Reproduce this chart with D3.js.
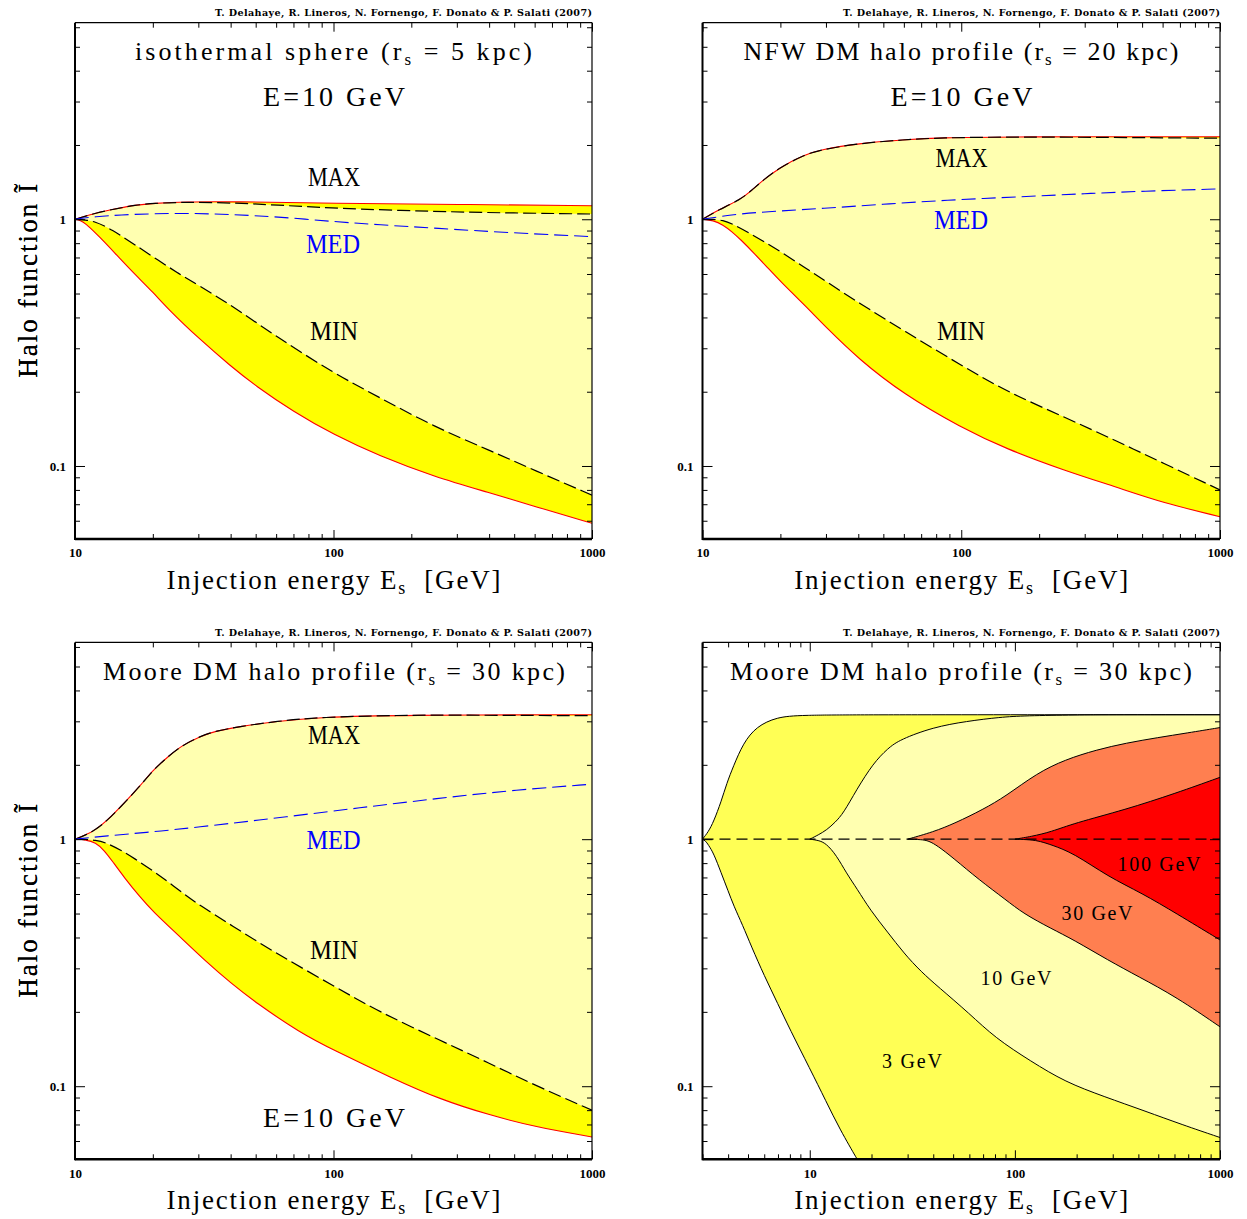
<!DOCTYPE html>
<html><head><meta charset="utf-8">
<script src="https://cdn.jsdelivr.net/npm/d3@7"></script>
<style>body{margin:0;background:#fff}svg{display:block}</style>
</head><body>
<svg id="c" width="1247" height="1219"></svg>
<script>
// ---------------- DATA ----------------
const xTickMajor = [10, 100, 1000];
const xTickLabels = ["10", "100", "1000"];
const yTickMajor = [0.1, 1];
const yTickLabels = ["0.1", "1"];
const yDomain = [0.0506, 6.26];
const xDomainA = [10, 1000];
const xDomainB = [3, 1000];

// isothermal sphere, E = 10 GeV
const isoRedMax  = [[10,1],[12,1.06],[14.7,1.108],[17,1.14],[20,1.16],[27,1.178],[40,1.18],[100,1.16],[300,1.148],[1000,1.135]];
const isoDashMax = [[10,1],[12,1.06],[14.7,1.108],[17,1.14],[20,1.16],[27,1.175],[40,1.165],[60,1.143],[100,1.108],[246,1.074],[500,1.06],[1000,1.05]];
const isoMed     = [[10,1],[12,1.025],[15,1.042],[20,1.053],[28,1.058],[40,1.045],[60,1.025],[100,0.978],[150,0.95],[246,0.92],[500,0.88],[1000,0.85]];
const isoDashMin = [[10,1],[11,0.995],[12,0.975],[13,0.94],[14,0.9],[15,0.86],[17,0.79],[20.9,0.684],[25,0.605],[30,0.54],[40,0.45],[60,0.335],[100,0.238],[150,0.19],[246,0.144],[400,0.116],[600,0.096],[1000,0.0762]];
const isoRedMin  = [[10,1],[10.5,0.99],[11,0.96],[12,0.88],[13,0.81],[14.7,0.705],[17,0.6],[20,0.507],[23.3,0.425],[30,0.33],[40,0.254],[50,0.211],[70,0.166],[100,0.134],[150,0.11],[246,0.0904],[400,0.078],[600,0.0686],[1000,0.0586]];

// NFW, E = 10 GeV
const nfwRedMax  = [[10,1],[11.5,1.09],[14,1.2],[15.5,1.31],[17,1.43],[20,1.63],[25,1.83],[28.5,1.91],[40,2.03],[60,2.1],[83,2.14],[150,2.16],[1000,2.16]];
const nfwDashMax = [[10,1],[11.5,1.09],[14,1.2],[15.5,1.31],[17,1.43],[20,1.63],[25,1.83],[28.5,1.91],[40,2.03],[60,2.1],[83,2.14],[150,2.155],[300,2.15],[1000,2.13]];
const nfwMed     = [[10,1],[14,1.055],[20,1.08],[28.5,1.105],[50,1.15],[86,1.195],[176,1.235],[300,1.27],[500,1.3],[1000,1.327]];
const nfwDashMin = [[10,1],[11,1],[12,0.99],[13,0.96],[15,0.885],[17,0.82],[20,0.74],[25,0.635],[30,0.56],[40,0.46],[60,0.353],[100,0.256],[150,0.2],[250,0.158],[400,0.126],[600,0.103],[1000,0.08]];
const nfwRedMin  = [[10,1],[11,0.99],[12,0.95],[13,0.89],[14,0.83],[16,0.72],[18,0.63],[20,0.56],[25,0.445],[30,0.365],[40,0.272],[60,0.195],[100,0.143],[150,0.117],[250,0.096],[400,0.082],[600,0.071],[1000,0.0623]];

// Moore, E = 10 GeV
const mooreRedMax  = [[10,1],[11,1.04],[12,1.09],[13.4,1.197],[15,1.35],[17.8,1.634],[20,1.9],[22.9,2.16],[26,2.4],[30.5,2.61],[35,2.74],[43.5,2.86],[60,3.0],[88.7,3.12],[181,3.18],[1000,3.19]];
const mooreDashMax = [[10,1],[11,1.04],[12,1.09],[13.4,1.197],[15,1.35],[17.8,1.634],[20,1.9],[22.9,2.16],[26,2.4],[30.5,2.61],[35,2.74],[43.5,2.86],[60,3.0],[88.7,3.12],[181,3.175],[300,3.18],[1000,3.16]];
const mooreMed     = [[10,1],[13,1.03],[20,1.07],[30,1.12],[50,1.19],[100,1.3],[150,1.37],[280,1.48],[500,1.58],[1000,1.67]];
const mooreDashMin = [[10,1],[11,1],[12,0.99],[13,0.975],[15,0.905],[17,0.835],[20,0.745],[23,0.67],[27,0.59],[30,0.545],[40,0.45],[60,0.345],[100,0.255],[150,0.2],[258,0.1536],[400,0.124],[600,0.101],[1000,0.08]];
const mooreRedMin  = [[10,1],[11,0.995],[12,0.97],[13,0.9],[14,0.81],[15.5,0.7],[17.8,0.585],[20,0.51],[25,0.41],[32.7,0.314],[40,0.262],[50,0.218],[74,0.165],[100,0.14],[168,0.108],[258,0.0885],[400,0.0765],[600,0.0685],[1000,0.0623]];

// Moore, bands for several detected energies
const bandLabels = ["3 GeV", "10 GeV", "30 GeV", "100 GeV"];
const e3Upper   = [[3,1],[3.2,1.07],[3.4,1.178],[3.7,1.42],[3.94,1.686],[4.24,1.97],[4.74,2.45],[5.5,2.86],[6.9,3.12],[9,3.18],[20,3.19],[1000,3.19]];
const e3Lower   = [[3,1],[3.1,0.985],[3.2,0.95],[3.4,0.877],[3.7,0.73],[4,0.617],[4.27,0.535],[4.7,0.45],[5.2,0.367],[6,0.28],[7,0.215],[8,0.17],[10,0.118],[12,0.087],[14,0.067],[17.3,0.0495]];
const e10Upper  = [[10,1],[11,1.04],[12.1,1.09],[13.3,1.17],[14.6,1.274],[16.9,1.585],[20.4,2.03],[24,2.33],[27.5,2.53],[40,2.84],[58,3.0],[85,3.12],[112,3.16],[200,3.185],[300,3.19],[1000,3.19]];
const e10Lower  = [[10,1],[11,0.99],[12,0.963],[13.5,0.86],[15.1,0.728],[17,0.63],[19.7,0.517],[24,0.42],[28.8,0.345],[35,0.29],[42.2,0.253],[60,0.197],[80,0.157],[120,0.126],[176,0.104],[270,0.091],[437,0.079],[650,0.07],[1000,0.062]];
const e30Upper  = [[30,1],[40,1.07],[51,1.16],[70,1.32],[90,1.49],[128,1.85],[176,2.1],[250,2.3],[348,2.45],[500,2.58],[690,2.69],[1000,2.83]];
const e30Lower  = [[30,1],[35,0.997],[38,0.985],[42,0.94],[50,0.84],[67,0.684],[90,0.57],[110,0.5],[150,0.435],[194,0.391],[284,0.324],[400,0.278],[611,0.23],[1000,0.174]];
const e100Upper = [[100,1],[120,1.025],[150,1.07],[194,1.16],[344,1.315],[611,1.536],[1000,1.78]];
const e100Lower = [[100,1],[120,0.995],[133,0.98],[150,0.95],[194,0.877],[284,0.706],[417,0.604],[611,0.501],[1000,0.391]];
const unityLine = [[3,1],[1000,1]];

const credit = "T. Delahaye, R. Lineros, N. Fornengo, F. Donato & P. Salati (2007)";

// ---------------- DRAWING ----------------
const svg = d3.select('#c');
const SERIF = '"Liberation Serif", "DejaVu Serif", serif';
const C = {bright:'#ffff00', light:'#ffffb0', y3:'#ffff55', coral:'#ff7f50', red:'#ff0000'};

const frames = [
  {x0:75,   x1:592,  y0:22.7,  y1:539},
  {x0:702.5,x1:1220, y0:22.7,  y1:539},
  {x0:75,   x1:592,  y0:642.4, y1:1159.3},
  {x0:702.5,x1:1220, y0:642.4, y1:1159.3}
];

function makePanel(f, xDomain, id) {
  const g = svg.append('g');
  const x = d3.scaleLog().domain(xDomain).range([f.x0, f.x1]);
  const y = d3.scaleLog().domain(yDomain).range([f.y1, f.y0]);
  g.append('clipPath').attr('id','clip'+id).append('rect')
    .attr('x',f.x0).attr('y',f.y0).attr('width',f.x1-f.x0).attr('height',f.y1-f.y0);
  const plot = g.append('g').attr('clip-path',`url(#clip${id})`);
  const line = d3.line().x(d=>x(d[0])).y(d=>y(d[1])).curve(d3.curveBasis);
  const band = (up, lo) => line(up) + 'L' + line(lo.slice().reverse()).slice(1) + 'Z';
  return {g, plot, x, y, f, line, band};
}

function minorTicks(domain) {
  const out = [];
  for (let k = -3; k <= 4; k++) for (let m = 2; m <= 9; m++) {
    const v = m * Math.pow(10, k);
    if (v >= domain[0]*0.9999 && v <= domain[1]*1.0001) out.push(+v.toPrecision(3));
  }
  return out;
}

function axes(P) {
  const {g, x, y, f} = P;
  const xMin = minorTicks(x.domain()), yMin = minorTicks(y.domain());
  const clean = s => { s.select('.domain').remove(); s.selectAll('line').attr('stroke','#000').attr('stroke-width',1); };
  g.append('g').attr('transform',`translate(0,${f.y1})`).call(d3.axisBottom(x).tickValues(xMin).tickSize(-5).tickFormat('')).call(clean);
  g.append('g').attr('transform',`translate(0,${f.y0})`).call(d3.axisTop(x).tickValues(xMin).tickSize(-5).tickFormat('')).call(clean);
  g.append('g').attr('transform',`translate(${f.x0},0)`).call(d3.axisLeft(y).tickValues(yMin).tickSize(-5).tickFormat('')).call(clean);
  g.append('g').attr('transform',`translate(${f.x1},0)`).call(d3.axisRight(y).tickValues(yMin).tickSize(-5).tickFormat('')).call(clean);
  const xb = g.append('g').attr('transform',`translate(0,${f.y1})`)
    .call(d3.axisBottom(x).tickValues(xTickMajor).tickSize(-9).tickPadding(9).tickFormat((d,i)=>xTickLabels[i])).call(clean);
  g.append('g').attr('transform',`translate(0,${f.y0})`).call(d3.axisTop(x).tickValues(xTickMajor).tickSize(-9).tickFormat('')).call(clean);
  const yl = g.append('g').attr('transform',`translate(${f.x0},0)`)
    .call(d3.axisLeft(y).tickValues(yTickMajor).tickSize(-10).tickPadding(9).tickFormat((d,i)=>yTickLabels[i])).call(clean);
  g.append('g').attr('transform',`translate(${f.x1},0)`).call(d3.axisRight(y).tickValues(yTickMajor).tickSize(-10).tickFormat('')).call(clean);
  [xb, yl].forEach(s => s.selectAll('text').attr('font-family',SERIF).attr('font-weight','bold').attr('font-size',13).attr('fill','#000'));
  g.append('line').attr('x1',f.x0).attr('x2',f.x1).attr('y1',f.y1).attr('y2',f.y1).attr('stroke','#000').attr('stroke-width',2.4);
  g.append('line').attr('x1',f.x0).attr('x2',f.x0).attr('y1',f.y0).attr('y2',f.y1+1).attr('stroke','#000').attr('stroke-width',2);
  g.append('line').attr('x1',f.x0).attr('x2',f.x1).attr('y1',f.y0).attr('y2',f.y0).attr('stroke','#000').attr('stroke-width',1.2);
  g.append('line').attr('x1',f.x1).attr('x2',f.x1).attr('y1',f.y0).attr('y2',f.y1).attr('stroke','#000').attr('stroke-width',1.2);
}

function label(g, x, y, parts, size, len, color, opts) {
  opts = opts || {};
  const t = g.append('text').attr('x',x).attr('y',y).attr('text-anchor',opts.anchor||'middle')
    .attr('font-family',opts.family||SERIF).attr('font-size',size).attr('fill',color||'#000')
    .attr('font-weight',opts.weight||'normal').style('white-space','pre');
  if (opts.transform) t.attr('transform',opts.transform).attr('x',0).attr('y',0);
  parts.forEach(p => {
    if (typeof p === 'string') t.append('tspan').text(p);
    else { const s = t.append('tspan').attr('dy',p.dy).text(p.t); if (p.size) s.attr('font-size',p.size); }
  });
  if (len) t.attr('textLength',len).attr('lengthAdjust',opts.adjust||'spacing');
  return t;
}
const SQ = {adjust:'spacingAndGlyphs'};

function commonText(P) {
  const f = P.f, cx = (f.x0+f.x1)/2;
  label(P.g, f.x1, f.y0-6.5, [credit], 9.6, 377, '#000', {anchor:'end', family:'"DejaVu Serif", serif', weight:'bold'});
  label(P.g, cx, f.y1+50, ['Injection energy E', {t:'s',dy:5,size:18}, {t:'  [GeV]',dy:-5}], 27, 334);
  label(P.g, 0, 0, ['Halo function Ĩ'], 27, 194, '#000', {transform:`translate(37,${(f.y0+f.y1)/2}) rotate(-90)`});
}

function envelopePanel(P, redMax, dashMax, med, dashMin, redMin) {
  const {plot, line, band} = P;
  plot.append('path').attr('d', band(redMax, redMin)).attr('fill', C.bright);
  plot.append('path').attr('d', band(dashMax, dashMin)).attr('fill', C.light);
  [redMax, redMin].forEach(d => plot.append('path').attr('d', line(d)).attr('fill','none').attr('stroke','#ff0000').attr('stroke-width',1.1));
  [dashMax, dashMin].forEach(d => plot.append('path').attr('d', line(d)).attr('fill','none').attr('stroke','#000').attr('stroke-width',1.2).attr('stroke-dasharray','13,5'));
  plot.append('path').attr('d', line(med)).attr('fill','none').attr('stroke','#0000ff').attr('stroke-width',1.1).attr('stroke-dasharray','14,6');
}

// Panel 1: isothermal
const P1 = makePanel(frames[0], xDomainA, 1);
envelopePanel(P1, isoRedMax, isoDashMax, isoMed, isoDashMin, isoRedMin);
axes(P1); commonText(P1);
label(P1.g, 333.5, 60, ['isothermal sphere (r', {t:'s',dy:5,size:17}, {t:' = 5 kpc)',dy:-5}], 26, 397);
label(P1.g, 334, 106, ['E=10 GeV'], 28, 142);
label(P1.g, 334, 186, ['MAX'], 27, 52, '#000', SQ);
label(P1.g, 333, 253, ['MED'], 27, 54, '#0000ff', SQ);
label(P1.g, 334, 340, ['MIN'], 27, 48, '#000', SQ);

// Panel 2: NFW
const P2 = makePanel(frames[1], xDomainA, 2);
envelopePanel(P2, nfwRedMax, nfwDashMax, nfwMed, nfwDashMin, nfwRedMin);
axes(P2); commonText(P2);
label(P2.g, 961, 60, ['NFW DM halo profile (r', {t:'s',dy:5,size:17}, {t:' = 20 kpc)',dy:-5}], 26, 435);
label(P2.g, 961.5, 106, ['E=10 GeV'], 28, 142);
label(P2.g, 961.5, 167, ['MAX'], 27, 52, '#000', SQ);
label(P2.g, 961, 229, ['MED'], 27, 54, '#0000ff', SQ);
label(P2.g, 961, 340, ['MIN'], 27, 48, '#000', SQ);

// Panel 3: Moore
const P3 = makePanel(frames[2], xDomainA, 3);
envelopePanel(P3, mooreRedMax, mooreDashMax, mooreMed, mooreDashMin, mooreRedMin);
axes(P3); commonText(P3);
label(P3.g, 334, 680, ['Moore DM halo profile (r', {t:'s',dy:5,size:17}, {t:' = 30 kpc)',dy:-5}], 26, 462);
label(P3.g, 334, 744, ['MAX'], 27, 52, '#000', SQ);
label(P3.g, 333.5, 849, ['MED'], 27, 54, '#0000ff', SQ);
label(P3.g, 334, 959, ['MIN'], 27, 48, '#000', SQ);
label(P3.g, 334, 1127, ['E=10 GeV'], 28, 142);

// Panel 4: Moore, several energies
const P4 = makePanel(frames[3], xDomainB, 4);
{
  const {plot, line, band, y, x} = P4;
  const bottom = y.domain()[0];
  plot.append('path').attr('d', line(e3Upper) + 'L' + x(1000) + ',' + y(bottom) + 'L' + line(e3Lower.slice().reverse()).slice(1) + 'Z').attr('fill', C.y3);
  plot.append('path').attr('d', band(e10Upper, e10Lower)).attr('fill', C.light);
  plot.append('path').attr('d', band(e30Upper, e30Lower)).attr('fill', C.coral);
  plot.append('path').attr('d', band(e100Upper, e100Lower)).attr('fill', C.red);
  [e3Upper, e3Lower, e10Upper, e10Lower, e30Upper, e30Lower, e100Upper, e100Lower].forEach(d =>
    plot.append('path').attr('d', line(d)).attr('fill','none').attr('stroke','#000').attr('stroke-width',1));
  plot.append('path').attr('d', line(unityLine)).attr('fill','none').attr('stroke','#000').attr('stroke-width',1.2).attr('stroke-dasharray','11,6');
}
axes(P4); commonText(P4);
label(P4.g, 961, 680, ['Moore DM halo profile (r', {t:'s',dy:5,size:17}, {t:' = 30 kpc)',dy:-5}], 26, 462);
label(P4.g, 912, 1068, [bandLabels[0]], 20, 60);
label(P4.g, 1016, 985, [bandLabels[1]], 20, 71);
label(P4.g, 1097, 920, [bandLabels[2]], 20, 71);
label(P4.g, 1159, 871, [bandLabels[3]], 20, 83);
</script>
</body></html>
